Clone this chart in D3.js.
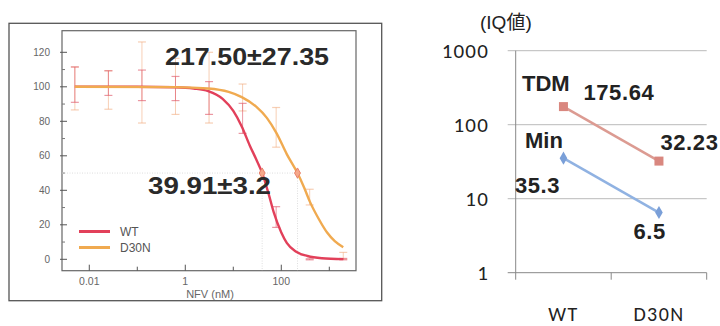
<!DOCTYPE html>
<html>
<head>
<meta charset="utf-8">
<script src="https://cdn.jsdelivr.net/npm/d3@7"></script>
<style>
  body { margin: 0; background: #fff; }
  svg { display: block; }
</style>
</head>
<body>
<svg id="chart" width="720" height="326"></svg>
<script>
// ---- left panel: dose response (NFV, nM) ----
const conc = [0.005, 0.025, 0.125, 0.625, 3.125, 15.625, 78.125, 390.625, 1953.125];
const wtLo = [91, 95, 92, 92, 84, 73, 18.5, -0.3, -0.3];
const wtHi = [111.5, 109.3, 109.7, 106, 103, 90.4, 30.5, 0.3, 0.5];
const d30nLo = [86.6, 87, 79, 84, 79, 86, 65, 31.5, 0];
const d30nHi = [111.5, 109.3, 126, 116.5, 120, 101.6, 88, 40.6, 4];

// fitted curves
const wtFitX = [0.005, 0.1, 0.6, 1.5, 3, 6, 10, 15, 22, 30, 40, 55, 70, 100, 130, 200, 350, 700, 1953];
const wtFitY = [100, 100, 99.7, 99, 97.5, 93, 86, 77, 66, 58, 50, 37.5, 27, 15.5, 9.5, 4.5, 1.9, 0.6, 0.1];
const d30nFitX = [0.005, 0.6, 3, 8, 15, 30, 50, 80, 130, 217.5, 300, 400, 600, 900, 1300, 1953];
const d30nFitY = [100, 99.8, 99, 97, 94, 88.5, 82, 73, 61, 50, 41.5, 33, 23.5, 15.5, 10.5, 7];

const ic50 = [39.91, 217.50];
const ic50Labels = ['39.91\u00b13.2', '217.50\u00b127.35'];
const seriesNames = ['WT', 'D30N'];
const yTicks = [0, 20, 40, 60, 80, 100, 120];
const xTicks = [0.01, 0.1, 1, 10, 100, 1000];
const xTickLabels = ['0.01', '', '1', '', '100', ''];

// ---- right panel: IQ values ----
const categories = ['WT', 'D30N'];
const tdmValues = [175.64, 32.23];
const minValues = [35.3, 6.5];
const iqTicks = [1, 10, 100, 1000];

const svg = d3.select('#chart');
const red = '#e2405a', orange = '#f0aa50';

// ===== left panel =====
const L = { left: 62, right: 356, top: 30.7, bottom: 270.7 };
svg.append('rect')
    .attr('x', 9).attr('y', 23.3).attr('width', 372.7).attr('height', 277.4)
    .attr('fill', 'none').attr('stroke', '#555').attr('stroke-width', 1.3);
svg.append('rect')
    .attr('x', L.left).attr('y', L.top).attr('width', L.right - L.left).attr('height', L.bottom - L.top)
    .attr('fill', 'none').attr('stroke', '#666').attr('stroke-width', 1.2);

const x = d3.scaleLog().domain([0.0027, 3600]).range([L.left, L.right]);
const y = d3.scaleLinear().domain([0, 120]).range([259.3, 52.3]);

const gl = svg.append('g');

// y ticks
gl.selectAll('.ymaj').data(yTicks).enter().append('line')
    .attr('x1', L.left - 2).attr('x2', L.left + 5)
    .attr('y1', d => y(d)).attr('y2', d => y(d))
    .attr('stroke', '#555');
gl.selectAll('.ymin').data(d3.range(10, 130, 20)).enter().append('line')
    .attr('x1', L.left).attr('x2', L.left + 3)
    .attr('y1', d => y(d)).attr('y2', d => y(d))
    .attr('stroke', '#777');
gl.selectAll('.ylab').data(yTicks).enter().append('text')
    .attr('x', L.left - 12).attr('y', d => y(d) + 3.5)
    .attr('text-anchor', 'end')
    .attr('font-family', 'Liberation Sans, Arial, sans-serif').attr('font-size', 10)
    .attr('fill', '#666')
    .text(d => d);

// x ticks
gl.selectAll('.xt').data(xTicks).enter().append('line')
    .attr('x1', d => x(d)).attr('x2', d => x(d))
    .attr('y1', L.bottom).attr('y2', (d, i) => L.bottom - (i % 2 ? 4 : 6))
    .attr('stroke', '#555');
gl.selectAll('.xlab').data(xTicks).enter().append('text')
    .attr('x', d => x(d)).attr('y', 285)
    .attr('text-anchor', 'middle')
    .attr('font-family', 'Liberation Sans, Arial, sans-serif').attr('font-size', 10.5)
    .attr('fill', '#666')
    .text((d, i) => xTickLabels[i]);
gl.append('text')
    .attr('x', (L.left + L.right) / 2 + 1).attr('y', 297.5)
    .attr('text-anchor', 'middle')
    .attr('font-family', 'Liberation Sans, Arial, sans-serif').attr('font-size', 11)
    .attr('fill', '#666')
    .text('NFV (nM)');

// guide lines at 50%
gl.append('line')
    .attr('x1', L.left).attr('x2', x(ic50[1]))
    .attr('y1', y(50)).attr('y2', y(50))
    .attr('stroke', '#ddd').attr('stroke-dasharray', '1,1.5');
gl.selectAll('.vg').data(ic50).enter().append('line')
    .attr('x1', d => x(d)).attr('x2', d => x(d))
    .attr('y1', y(50)).attr('y2', L.bottom)
    .attr('stroke', '#ddd').attr('stroke-dasharray', '1,1.5');

// error bars
function errorBars(lo, hi, color, opacity) {
    const g = gl.append('g').attr('stroke', color).attr('stroke-opacity', opacity);
    conc.forEach((c, i) => {
        g.append('line').attr('x1', x(c)).attr('x2', x(c))
            .attr('y1', y(lo[i])).attr('y2', y(hi[i])).attr('stroke-width', 1);
        [lo[i], hi[i]].forEach(v => {
            g.append('line').attr('x1', x(c) - 4).attr('x2', x(c) + 4)
                .attr('y1', y(v)).attr('y2', y(v)).attr('stroke-width', 1.2);
        });
    });
}
errorBars(d30nLo, d30nHi, '#f0a878', 0.55);
errorBars(wtLo, wtHi, '#e06070', 0.65);

// fitted curves
const line = d3.line().x(d => x(d[0])).y(d => y(d[1])).curve(d3.curveMonotoneX);
gl.append('path').datum(d3.zip(wtFitX, wtFitY))
    .attr('d', line).attr('fill', 'none').attr('stroke', red).attr('stroke-width', 2.4);
gl.append('path').datum(d3.zip(d30nFitX, d30nFitY))
    .attr('d', line).attr('fill', 'none').attr('stroke', orange).attr('stroke-width', 2.4);

// IC50 markers
gl.selectAll('.ic').data(ic50).enter().append('path')
    .attr('d', d3.symbol(d3.symbolDiamond, 30))
    .attr('transform', d => `translate(${x(d)},${y(50)})`)
    .attr('fill', '#f5a88a').attr('stroke', '#e8806a').attr('stroke-width', 1);

// IC50 annotations
gl.append('text')
    .attr('x', 165).attr('y', 65)
    .attr('font-family', 'Liberation Sans, Arial, sans-serif').attr('font-weight', 'bold')
    .attr('font-size', 24).attr('fill', '#2a2a2a')
    .attr('textLength', 164).attr('lengthAdjust', 'spacingAndGlyphs')
    .text(ic50Labels[1]);
gl.append('text')
    .attr('x', 148).attr('y', 193.5)
    .attr('font-family', 'Liberation Sans, Arial, sans-serif').attr('font-weight', 'bold')
    .attr('font-size', 24).attr('fill', '#2a2a2a')
    .attr('textLength', 123).attr('lengthAdjust', 'spacingAndGlyphs')
    .text(ic50Labels[0]);

// legend
const leg = gl.selectAll('.leg').data(seriesNames).enter().append('g')
    .attr('transform', (d, i) => `translate(79,${231.5 + i * 16})`);
leg.append('line').attr('x1', 0).attr('x2', 31)
    .attr('stroke', (d, i) => i ? orange : red).attr('stroke-width', 3);
leg.append('text').attr('x', 41).attr('y', 4.5)
    .attr('font-family', 'Liberation Sans, Arial, sans-serif').attr('font-size', 12)
    .attr('fill', '#555')
    .text(d => d);

// ===== right panel =====
const R = { left: 515.7, right: 706.7, top: 50.7, bottom: 272.7 };
const xb = d3.scaleBand().domain(categories).range([R.left, R.right]);
const yl = d3.scaleLog().domain([1, 1000]).range([R.bottom, R.top]);
const gr = svg.append('g');
const font = 'Carlito, Calibri, Liberation Sans, Arial, sans-serif';

gr.selectAll('.grid').data(iqTicks).enter().append('line')
    .attr('x1', R.left - 8).attr('x2', R.right)
    .attr('y1', d => yl(d)).attr('y2', d => yl(d))
    .attr('stroke', (d, i) => i ? '#bbb' : '#888').attr('stroke-width', 1);
gr.append('line')
    .attr('x1', R.left).attr('x2', R.left).attr('y1', R.top).attr('y2', R.bottom + 7)
    .attr('stroke', '#888');
gr.selectAll('.xtick').data(categories).enter().append('line')
    .attr('x1', d => xb(d) + xb.bandwidth()).attr('x2', d => xb(d) + xb.bandwidth())
    .attr('y1', R.bottom).attr('y2', R.bottom + 7)
    .attr('stroke', '#888');
gr.selectAll('.ylab').data(iqTicks).enter().append('text')
    .attr('x', 489).attr('y', d => yl(d) + 7.5)
    .attr('text-anchor', 'end')
    .attr('font-family', font).attr('font-size', 21).attr('fill', '#222')
    .attr('letter-spacing', 1.2)
    .text(d => d);
gr.selectAll('.xlab').data(categories).enter().append('text')
    .attr('x', d => xb(d) + xb.bandwidth() / 2).attr('y', 320.5)
    .attr('text-anchor', 'middle')
    .attr('font-family', font).attr('font-size', 20).attr('fill', '#222')
    .attr('letter-spacing', 1.4)
    .text(d => d);
gr.append('text')
    .attr('x', 480).attr('y', 29)
    .attr('font-family', 'Liberation Sans, Noto Sans CJK JP, sans-serif').attr('font-size', 19)
    .attr('fill', '#222')
    .text('(IQ\u5024)');

const cx = d => xb(d) + xb.bandwidth() / 2;
const lineR = d3.line().x(d => cx(d[0])).y(d => yl(d[1]));

gr.append('path').datum(d3.zip(categories, tdmValues))
    .attr('d', lineR).attr('fill', 'none').attr('stroke', '#dc9b92').attr('stroke-width', 2.5);
gr.append('path').datum(d3.zip(categories, minValues))
    .attr('d', lineR).attr('fill', 'none').attr('stroke', '#90b2e2').attr('stroke-width', 2.5);
gr.selectAll('.sq').data(d3.zip(categories, tdmValues)).enter().append('rect')
    .attr('x', d => cx(d[0]) - 4.5).attr('y', d => yl(d[1]) - 4.5)
    .attr('width', 9).attr('height', 9)
    .attr('fill', '#d9877f');
gr.selectAll('.dm').data(d3.zip(categories, minValues)).enter().append('path')
    .attr('d', d3.symbol(d3.symbolDiamond, 50))
    .attr('transform', d => `translate(${cx(d[0])},${yl(d[1])})`)
    .attr('fill', '#7a9fd8');

// series names and value labels (offsets from their points)
const bold = sel => sel.attr('font-family', 'Liberation Sans, Arial, sans-serif')
    .attr('font-weight', 'bold').attr('font-size', 22).attr('fill', '#222');
gr.append('text').call(bold)
    .attr('x', cx('WT') - 41.5).attr('y', yl(tdmValues[0]) - 16).text('TDM');
gr.append('text').call(bold)
    .attr('x', cx('WT') - 38.5).attr('y', yl(minValues[0]) - 10).text('Min');
const valueLabels = [
    { cat: 'WT', v: tdmValues[0], dx: 20, dy: -7 },
    { cat: 'D30N', v: tdmValues[1], dx: 1.5, dy: -11 },
    { cat: 'WT', v: minValues[0], dx: -48.5, dy: 35 },
    { cat: 'D30N', v: minValues[1], dx: -25.5, dy: 26 }
];
gr.selectAll('.vl').data(valueLabels).enter().append('text').call(bold)
    .attr('x', d => cx(d.cat) + d.dx).attr('y', d => yl(d.v) + d.dy)
    .attr('letter-spacing', 0.6)
    .text(d => d.v);
</script>
</body>
</html>
